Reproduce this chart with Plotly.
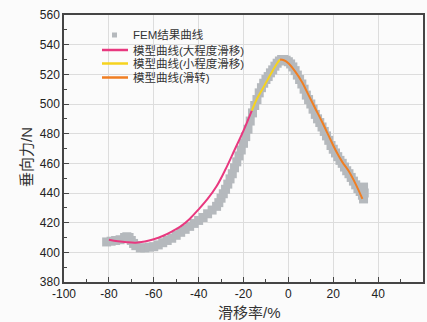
import plotly.graph_objects as go

# ---------------- data ----------------
fem_x = [-81, -79, -77, -75, -73, -72, -71, -70, -69, -68, -66, -64, -62, -60, -58, -56, -54, -52,
         -50, -48, -46, -44, -42, -40, -38, -36, -34, -32, -31, -30, -29, -28, -27, -26, -25, -24,
         -23, -22, -21, -20, -19, -18, -17, -16, -15, -14, -13, -12, -11, -10, -9, -8, -7, -6, -5,
         -4, -3, -2, -1, 0, 1, 2, 3, 4, 5, 6, 7, 8, 9, 10, 11, 12, 13, 14, 15, 16, 17, 18, 19, 20,
         21, 22, 23, 24, 25, 26, 27, 28, 29, 30, 31, 32, 33, 33.5, 33.5, 33.8]
fem_y = [407, 407.5, 408, 408.5, 410, 410.5, 410, 408, 406, 404.5, 403, 403, 403.5, 403.8, 405, 406.5, 408, 409.5,
         411.5, 413.5, 415.5, 417.5, 419.5, 421.5, 423.5, 426, 428.5, 431, 433.5, 436.5, 439.5, 442.5, 446, 449.5, 453, 457,
         461, 465, 469, 473.5, 478, 483, 488.5, 494, 499, 503, 507.5, 511, 514, 516.5, 518.5, 521, 523, 525.5, 527.5,
         529, 530, 530, 529.5, 528.5, 527, 525, 522.5, 519.5, 516.5, 513.5, 510, 506, 503, 500, 496.5, 493, 490, 487.5, 484.5, 481.5, 478.5, 475.5, 472, 469.5,
         467, 464.5, 462, 460, 457.5, 455, 453, 450.5, 448, 445.5, 443, 441, 438.5, 436, 444, 440]

large_x = [-80, -76, -72, -68, -64, -60, -56, -52, -48, -44, -40, -36, -32, -28, -24, -20, -16.3]
large_y = [408.5, 407.5, 406.8, 406.5, 407.3, 408.8, 411, 414, 417.5, 422.5, 429, 436, 444.5, 456, 469, 482, 495.5]

small_x = [-16.3, -14, -11.4, -9, -7, -5, -3.7]
small_y = [495.5, 503.5, 510.5, 517, 522.5, 527.5, 530]

slip_x = [-3.7, -2, 0, 3, 6, 9, 12, 15, 18, 21, 24, 27, 30, 33]
slip_y = [530, 529.5, 527.5, 522, 515, 506, 497, 488, 478.5, 469, 461, 454.5, 446, 436]

names = ["FEM结果曲线", "模型曲线(大程度滑移)", "模型曲线(小程度滑移)", "模型曲线(滑转)"]
colors = ["#b5b9bd", "#e8387f", "#f6d31e", "#f07e22"]

x_ticks = [-100, -80, -60, -40, -20, 0, 20, 40, 60]
y_ticks = [380, 400, 420, 440, 460, 480, 500, 520, 540, 560]
x_title = "滑移率/%"
y_title = "垂向力/N"

FONT = "Liberation Sans, Arial, Noto Sans CJK SC, sans-serif"

# ---------------- figure ----------------
fig = go.Figure()
fig.add_trace(go.Scatter(x=fem_x, y=fem_y, mode="markers", name=names[0],
                         marker=dict(symbol="square", size=9, color=colors[0], line=dict(width=0)),
                         showlegend=False))
for xs, ys, nm, c in [(large_x, large_y, names[1], colors[1]),
                      (small_x, small_y, names[2], colors[2]),
                      (slip_x, slip_y, names[3], colors[3])]:
    fig.add_trace(go.Scatter(x=xs, y=ys, mode="lines", name=nm, line=dict(color=c, width=2, shape="spline"),
                             showlegend=False))

W, H = 427, 322
ML, MR, MT, MB = 64, 4, 15, 40
PW, PH = W - ML - MR, H - MT - MB


def px2paper(px, py):
    return (px - ML) / PW, 1 - (py - MT) / PH


# manual legend (to match the compact spacing of the original)
rows_y = [35, 50, 63.5, 77.5]
shapes = []
annotations = []
for i, (nm, c) in enumerate(zip(names, colors)):
    yy = rows_y[i]
    if i == 0:
        x0, y0 = px2paper(112, yy - 2.5)
        x1, y1 = px2paper(117, yy + 2.5)
        shapes.append(dict(type="rect", xref="paper", yref="paper", x0=x0, x1=x1, y0=y0, y1=y1,
                           fillcolor=c, line=dict(width=0)))
    else:
        x0, y0 = px2paper(102, yy)
        x1, _ = px2paper(128, yy)
        shapes.append(dict(type="line", xref="paper", yref="paper", x0=x0, x1=x1, y0=y0, y1=y0,
                           line=dict(color=c, width=2.5)))
    tx, ty = px2paper(131, yy)
    annotations.append(dict(text=nm, xref="paper", yref="paper", x=tx, y=ty, xanchor="left", yanchor="middle",
                            showarrow=False, font=dict(family=FONT, size=11.5, color="#333")))

# axis titles placed as in the original
tx, ty = px2paper(249, 312.5)
annotations.append(dict(text=x_title, xref="paper", yref="paper", x=tx, y=ty, xanchor="center", yanchor="middle",
                        showarrow=False, font=dict(family=FONT, size=15, color="#333")))
tx, ty = px2paper(26, 157)
annotations.append(dict(text=y_title, xref="paper", yref="paper", x=tx, y=ty, xanchor="center", yanchor="middle",
                        textangle=-90, showarrow=False, font=dict(family=FONT, size=15, color="#333")))

axis_common = dict(
    showline=True, linecolor="#454545", linewidth=1.5, mirror=True,
    ticks="inside", ticklen=5, tickwidth=1.2, tickcolor="#454545",
    showgrid=True, gridcolor="#dddddd", gridwidth=1, zeroline=False, automargin=False,
    tickfont=dict(family=FONT, size=12, color="#222"),
    minor=dict(ticks="inside", ticklen=3, tickcolor="#454545", showgrid=False),
)

fig.update_layout(
    width=W, height=H,
    margin=dict(l=ML, r=MR, t=MT, b=MB, autoexpand=False),
    paper_bgcolor="#fbfbfb", plot_bgcolor="#fbfbfb",
    shapes=shapes, annotations=annotations,
    xaxis=dict(range=[-100, 60], tickvals=x_ticks, ticktext=[str(v) for v in x_ticks],
               minor_dtick=10, minor_tick0=-100, **axis_common),
    yaxis=dict(range=[380, 560], tickvals=y_ticks, ticktext=[str(v) for v in y_ticks],
               minor_dtick=10, minor_tick0=380, **axis_common),
)

fig.write_html("out.html", config={"displayModeBar": False})

# remove the browser's default page margin so the figure sits at the window's top-left corner
with open("out.html", "r", encoding="utf-8") as f:
    html = f.read()
html = html.replace("<head>", "<head><style>html,body{margin:0;padding:0;overflow:hidden;background:#fbfbfb}</style>", 1)
with open("out.html", "w", encoding="utf-8") as f:
    f.write(html)
